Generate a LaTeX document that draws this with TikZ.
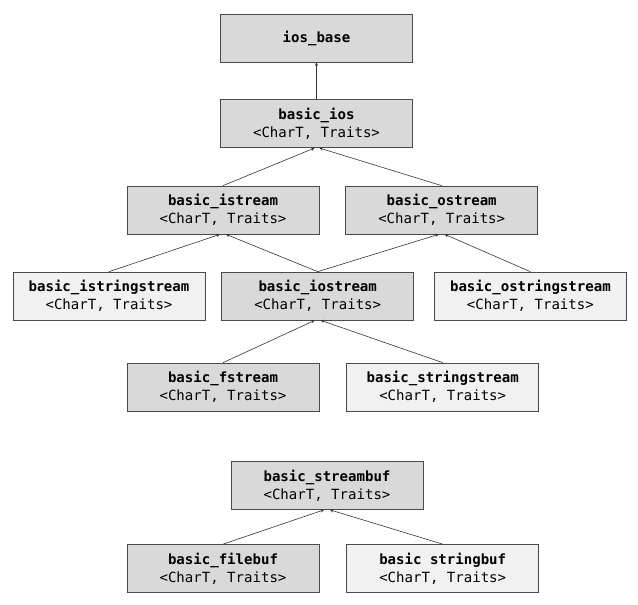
\documentclass[tikz,border=0pt]{standalone}
\usepackage{xcolor}
\usepackage{fontspec}
\setmonofont{DejaVu Sans Mono}
\usepackage{tikz}
\usetikzlibrary{arrows.meta,positioning}
\definecolor{boxgray}{HTML}{D9D9D9}
\definecolor{boxlight}{HTML}{F1F1F1}
\definecolor{edgegray}{HTML}{4A4A4A}
\definecolor{linegray}{HTML}{333333}

\begin{document}
\begin{tikzpicture}[
    x=1bp, y=-1bp,
    base/.style={draw=edgegray, line width=0.7pt, fill=boxgray,
                 align=center, minimum width=192bp, minimum height=48bp,
                 inner sep=2bp, font=\ttfamily\fontsize{14.1}{18}\selectfont},
    leaf/.style={base, fill=boxlight},
    inherit/.style={-{Stealth[length=3.5bp, width=3.5bp, open]},
                    line width=0.6pt, color=linegray}
]
    \useasboundingbox (0,0) rectangle (638,605);

    \node[base] (iosbase) at (316.5,38) {\textbf{ios\_base}};
    \node[base, below=37bp of iosbase] (ios)
        {\textbf{basic\_ios}\\<CharT, Traits>};

    \node[base] (istream) at (223,210)
        {\textbf{basic\_istream}\\<CharT, Traits>};
    \node[base, right=26bp of istream] (ostream)
        {\textbf{basic\_ostream}\\<CharT, Traits>};

    \node[leaf] (istringstream) at (109,296)
        {\textbf{basic\_istringstream}\\<CharT, Traits>};
    \node[base, right=16bp of istringstream] (iostream)
        {\textbf{basic\_iostream}\\<CharT, Traits>};
    \node[leaf, right=20bp of iostream] (ostringstream)
        {\textbf{basic\_ostringstream}\\<CharT, Traits>};

    \node[base] (fstream) at (223,387)
        {\textbf{basic\_fstream}\\<CharT, Traits>};
    \node[leaf, right=27bp of fstream] (stringstream)
        {\textbf{basic\_stringstream}\\<CharT, Traits>};

    \node[base] (streambuf) at (327,485.5)
        {\textbf{basic\_streambuf}\\<CharT, Traits>};
    \node[base] (filebuf) at (223,568.5)
        {\textbf{basic\_filebuf}\\<CharT, Traits>};
    \node[leaf, right=27bp of filebuf] (stringbuf)
        {\textbf{basic stringbuf}\\<CharT, Traits>};

    \draw[inherit] (ios) -- (iosbase);
    \draw[inherit] (istream.north) -- ([xshift=-2bp]ios.south);
    \draw[inherit] (ostream.north) -- ([xshift=3bp]ios.south);
    \draw[inherit] (istringstream.north) -- ([xshift=-3bp]istream.south);
    \draw[inherit] (iostream.north) -- ([xshift=3bp]istream.south);
    \draw[inherit] (iostream.north) -- ([xshift=-3bp]ostream.south);
    \draw[inherit] (ostringstream.north) -- ([xshift=3bp]ostream.south);
    \draw[inherit] (fstream.north) -- ([xshift=-3bp]iostream.south);
    \draw[inherit] (stringstream.north) -- ([xshift=3bp]iostream.south);
    \draw[inherit] (filebuf.north) -- ([xshift=-3bp]streambuf.south);
    \draw[inherit] (stringbuf.north) -- ([xshift=3bp]streambuf.south);
\end{tikzpicture}
\end{document}
